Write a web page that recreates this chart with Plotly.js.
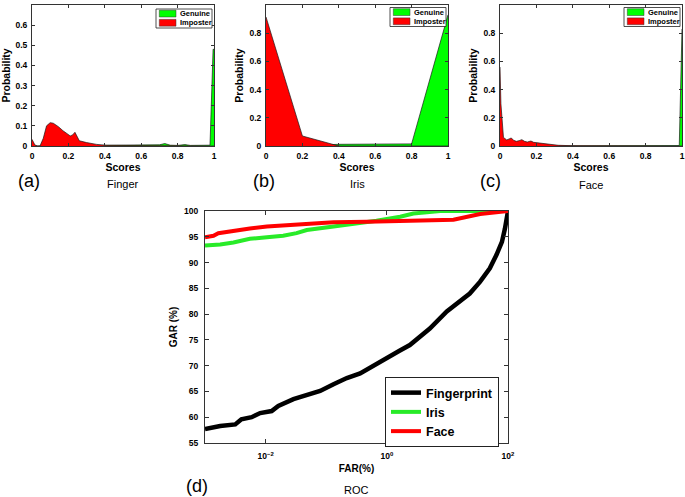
<!DOCTYPE html>
<html><head><meta charset="utf-8">
<script src="https://cdn.plot.ly/plotly-3.0.1.min.js"></script>
<style>html,body{margin:0;padding:0;background:#fff}#chart{width:685px;height:497px}</style>
</head><body><div id="chart"></div>
<script>
// ---------- data ----------
// (a) Finger score distributions
const fingerGenX = [0, 0.1, 0.2, 0.3, 0.4, 0.5, 0.6, 0.65, 0.7, 0.73, 0.76, 0.8, 0.84, 0.87, 0.9, 0.95, 0.978, 0.995, 1.0];
const fingerGenY = [0, 0, 0.001, 0.002, 0.004, 0.004, 0.005, 0.003, 0.006, 0.012, 0.004, 0.003, 0.007, 0.003, 0.003, 0.004, 0.004, 0.48, 0.48];
const fingerImpX = [0, 0.016, 0.03, 0.044, 0.062, 0.08, 0.1, 0.117, 0.145, 0.17, 0.21, 0.223, 0.236, 0.25, 0.26, 0.3, 0.355, 0.41, 0.5, 0.6, 0.7, 0.8, 0.9, 1.0];
const fingerImpY = [0.033, 0.005, 0, 0, 0.038, 0.1, 0.116, 0.113, 0.096, 0.076, 0.05, 0.055, 0.068, 0.041, 0.026, 0.017, 0.008, 0.003, 0.002, 0.001, 0.001, 0, 0, 0];
// (b) Iris score distributions
const irisGenX = [0, 0.2, 0.4, 0.6, 0.8, 1.0];
const irisGenY = [0, 0.003, 0.012, 0.012, 0.015, 0.93];
const irisImpX = [0, 0.2, 0.4, 0.6, 0.8, 1.0];
const irisImpY = [0.915, 0.071, 0, 0, 0, 0];
// (c) Face score distributions
const faceGenX = [0, 0.2, 0.4, 0.6, 0.8, 0.96, 0.985, 1.0];
const faceGenY = [0, 0, 0.001, 0.002, 0.002, 0.002, 0.003, 0.83];
const faceImpX = [0, 0.005, 0.019, 0.028, 0.037, 0.05, 0.062, 0.075, 0.09, 0.105, 0.12, 0.135, 0.15, 0.16, 0.17, 0.185, 0.2, 0.22, 0.25, 0.28, 0.32, 0.4, 0.5, 0.6, 0.7, 0.8, 0.9, 1.0];
const faceImpY = [0.56, 0.3, 0.061, 0.05, 0.043, 0.05, 0.057, 0.04, 0.033, 0.038, 0.045, 0.033, 0.028, 0.032, 0.035, 0.026, 0.024, 0.02, 0.017, 0.01, 0.005, 0.002, 0.001, 0.002, 0.001, 0.002, 0.001, 0];
// (d) ROC: FAR (%) and GAR (%)
const rocFingerFar = [0.001, 0.00178, 0.00316, 0.00398, 0.00589, 0.00813, 0.0126, 0.0162, 0.0288, 0.0479, 0.0794, 0.132, 0.219, 0.363, 0.603, 1.0, 1.62, 2.40, 5.13, 9.77, 16.2, 23.4, 34.7, 50.1, 64.6, 79.4, 89.1, 100];
const rocFingerGar = [57.7, 58.3, 58.6, 59.6, 60.0, 60.8, 61.2, 62.2, 63.5, 64.3, 65.1, 66.4, 67.6, 68.5, 70.0, 71.7, 72.9, 74.0, 77.2, 80.5, 82.4, 84.0, 86.3, 88.9, 91.5, 94.0, 96.6, 100];
const rocIrisFar = [0.001, 0.00178, 0.00295, 0.0055, 0.0105, 0.0195, 0.0324, 0.0479, 0.132, 0.363, 0.676, 1.66, 2.75, 7.59, 100];
const rocIrisGar = [93.3, 93.5, 93.9, 94.6, 94.9, 95.2, 95.7, 96.3, 97.0, 97.6, 98.1, 98.9, 99.5, 100, 100];
const rocFaceFar = [0.001, 0.00138, 0.00166, 0.00295, 0.0055, 0.0105, 0.0372, 0.132, 0.468, 1.66, 12.6, 34.7, 100];
const rocFaceGar = [94.9, 95.2, 95.7, 96.2, 96.6, 97.0, 97.4, 97.8, 97.9, 98.1, 98.3, 99.4, 100];
// labels
const seriesNames = ['Genuine', 'Imposter'];
const rocNames = ['Fingerprint', 'Iris', 'Face'];
const panelTags = ['(a)', '(b)', '(c)', '(d)'];
const panelNames = ['Finger', 'Iris', 'Face', 'ROC'];
const rocTickVals = [0.01, 1, 100];
const rocTickText = ['10<sup>−2</sup>', '10<sup>0</sup>', '10<sup>2</sup>'];

// ---------- layout helpers ----------
const W = 685, H = 497;
const fx = x => x / W, fy = y => 1 - y / H;
const F = 'Liberation Sans, Arial, Helvetica, sans-serif';
const GREEN = 'rgb(0,255,0)', RED = 'rgb(255,0,0)';
const ROCGREEN = 'rgb(40,235,40)';

function axBase(extra) {
  return Object.assign({
    showline: true, linecolor: '#333', linewidth: 1, mirror: 'ticks',
    ticks: 'inside', ticklen: 3, tickcolor: '#333', tickwidth: 1,
    showgrid: false, zeroline: false, fixedrange: true,
    tickfont: {family: F, size: 8.5, weight: 'bold', color: '#000'},
    ticklabelstandoff: 2
  }, extra);
}

// pixel boxes: [left, right, top, bottom]
const boxes = [[32, 214, 5, 146], [266, 448, 5, 146], [500, 682, 5, 146], [205, 508, 211, 443]];
const dom = b => ({x: [fx(b[0]), fx(b[1])], y: [fy(b[3]), fy(b[2])]});

const traces = [];
const dist = [
  [fingerGenX, fingerGenY, fingerImpX, fingerImpY],
  [irisGenX, irisGenY, irisImpX, irisImpY],
  [faceGenX, faceGenY, faceImpX, faceImpY]
];
dist.forEach((d, i) => {
  const sfx = i === 0 ? '' : String(i + 1);
  traces.push({x: d[0], y: d[1], type: 'scatter', mode: 'lines', fill: 'tozeroy',
    fillcolor: GREEN, line: {color: '#1a1a1a', width: 0.7}, name: seriesNames[0],
    xaxis: 'x' + sfx, yaxis: 'y' + sfx, showlegend: false, hoverinfo: 'skip'});
  traces.push({x: d[2], y: d[3], type: 'scatter', mode: 'lines', fill: 'tozeroy',
    fillcolor: RED, line: {color: '#1a1a1a', width: 0.7}, name: seriesNames[1],
    xaxis: 'x' + sfx, yaxis: 'y' + sfx, showlegend: false, hoverinfo: 'skip'});
});
const rocData = [[rocFingerFar, rocFingerGar, '#000', 4.5], [rocIrisFar, rocIrisGar, ROCGREEN, 4], [rocFaceFar, rocFaceGar, RED, 4]];
rocData.forEach((r, i) => {
  traces.push({x: r[0], y: r[1], type: 'scatter', mode: 'lines', name: rocNames[i],
    line: {color: r[2], width: r[3]}, xaxis: 'x4', yaxis: 'y4', hoverinfo: 'skip'});
});

const titleFont = {family: F, size: 10.5, weight: 'bold', color: '#000'};
const layout = {
  width: W, height: H, margin: {l: 0, r: 0, t: 0, b: 0, pad: 0},
  paper_bgcolor: '#fff', plot_bgcolor: '#fff', showlegend: true,
  legend: {x: fx(499), xanchor: 'right', y: fy(412), yanchor: 'middle',
    bordercolor: '#222', borderwidth: 1, bgcolor: '#fff',
    font: {family: F, size: 12.5, weight: 'bold', color: '#000'}, tracegroupgap: 0},
  shapes: [], annotations: []
};
const yRanges = [[0, 0.7, 0.1], [0, 1, 0.2], [0, 1, 0.2]];
for (let i = 0; i < 3; i++) {
  const sfx = i === 0 ? '' : String(i + 1);
  const d = dom(boxes[i]);
  layout['xaxis' + sfx] = axBase({domain: d.x, anchor: 'y' + sfx, range: [0, 1], tick0: 0, dtick: 0.2,
    title: {text: 'Scores', font: titleFont, standoff: 2}});
  layout['yaxis' + sfx] = axBase({domain: d.y, anchor: 'x' + sfx, range: [yRanges[i][0], yRanges[i][1]], tick0: 0, dtick: yRanges[i][2],
    title: {text: 'Probability', font: titleFont, standoff: 3}});
}
const d4 = dom(boxes[3]);
layout.xaxis4 = axBase({domain: d4.x, anchor: 'y4', type: 'log', range: [-3, 2], tickvals: rocTickVals, ticktext: rocTickText,
  ticklen: 4, tickfont: {family: F, size: 8.5, weight: 'bold', color: '#000'}, ticklabelstandoff: 5,
  title: {text: 'FAR(%)', font: {family: F, size: 10, weight: 'bold', color: '#000'}, standoff: 4}});
layout.yaxis4 = axBase({domain: d4.y, anchor: 'x4', range: [55, 100], tick0: 55, dtick: 5, ticklen: 4,
  tickfont: {family: F, size: 8.5, weight: 'bold', color: '#000'}, ticklabelstandoff: 4,
  title: {text: 'GAR (%)', font: {family: F, size: 10, weight: 'bold', color: '#000'}, standoff: 4}});

// mini legends for the three distribution panels (box + swatches + text)
const legendLT = [[156, 9], [390, 7.5], [624, 7.5]];
legendLT.forEach(([L, T]) => {
  layout.shapes.push({type: 'rect', xref: 'paper', yref: 'paper', x0: fx(L), x1: fx(L + 56), y0: fy(T), y1: fy(T + 19),
    line: {color: '#222', width: 0.8}, fillcolor: '#fff', layer: 'above'});
  [[GREEN, 1.2], [RED, 10.4]].forEach(([c, o], k) => {
    layout.shapes.push({type: 'rect', xref: 'paper', yref: 'paper', x0: fx(L + 3.3), x1: fx(L + 20), y0: fy(T + o), y1: fy(T + o + 6.8),
      line: {color: '#333', width: 0.5}, fillcolor: c, layer: 'above'});
    layout.annotations.push({xref: 'paper', yref: 'paper', x: fx(L + 22), y: fy(T + o + 3.4), xanchor: 'left', yanchor: 'middle',
      text: seriesNames[k], showarrow: false, font: {family: F, size: 7.5, weight: 'bold', color: '#000'}});
  });
});

// panel captions
const tagPos = [[29, 181], [264, 181], [490, 181], [197, 486]];
const namePos = [[123, 184], [357, 184], [591, 185], [356, 490]];
for (let i = 0; i < 4; i++) {
  layout.annotations.push({xref: 'paper', yref: 'paper', x: fx(tagPos[i][0]), y: fy(tagPos[i][1]), xanchor: 'center', yanchor: 'middle',
    text: panelTags[i], showarrow: false, font: {family: F, size: 18, color: '#000'}});
  layout.annotations.push({xref: 'paper', yref: 'paper', x: fx(namePos[i][0]), y: fy(namePos[i][1]), xanchor: 'center', yanchor: 'middle',
    text: panelNames[i], showarrow: false, font: {family: F, size: 11, color: '#000'}});
}

Plotly.newPlot('chart', traces, layout, {displayModeBar: false, staticPlot: true});
</script></body></html>
